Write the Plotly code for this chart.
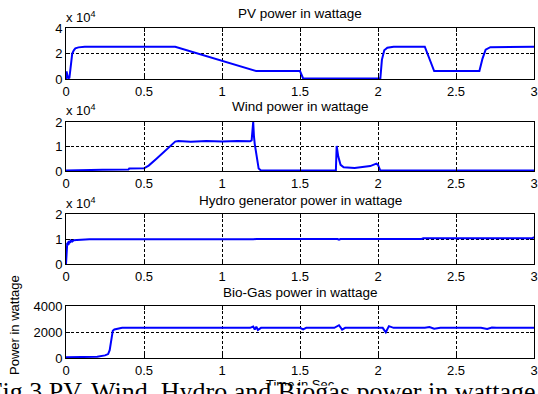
import plotly.graph_objects as go

# ---------------- data ----------------
pv_t = [0, 0.004, 0.008, 0.015, 0.022, 0.03, 0.04, 0.05, 0.06, 0.08, 0.1, 0.12,
        0.7, 1.22, 1.5, 1.52, 2.015, 2.025, 2.04, 2.06, 2.1, 2.3, 2.36, 2.65,
        2.67, 2.69, 2.72, 3.0]
pv_v = [0, 0.6, 0.3, 0.05, 0.1, 1.2, 2.0, 2.25, 2.4, 2.48, 2.52, 2.53,
        2.53, 0.62, 0.62, 0.04, 0.04, 1.5, 2.25, 2.45, 2.53, 2.53, 0.62, 0.62,
        1.6, 2.3, 2.5, 2.53]

wind_t = [0, 0.23, 0.235, 0.4, 0.405, 0.5, 0.53, 0.58, 0.65, 0.7, 0.72, 0.8, 0.9,
          1.0, 1.1, 1.18, 1.19, 1.195, 1.2, 1.205, 1.21, 1.235, 1.25, 1.73, 1.735,
          1.745, 1.76, 1.78, 1.85, 1.95, 1.99, 2.0, 2.015, 3.0]
wind_v = [0.02, 0.02, 0.05, 0.06, 0.1, 0.11, 0.22, 0.5, 0.9, 1.2, 1.22, 1.19, 1.22,
          1.2, 1.22, 1.21, 1.25, 1.9, 2.0, 1.4, 1.1, 0.1, 0.02, 0.02, 1.02,
          0.6, 0.25, 0.15, 0.12, 0.2, 0.3, 0.25, 0.02, 0.02]

hydro_t = [0, 0.002, 0.005, 0.008, 0.011, 0.014, 0.017, 0.02, 0.025, 0.03, 0.04,
           0.05, 0.07, 0.1, 0.15, 1.2, 1.22, 1.74, 1.75, 1.76, 2.04, 2.05, 2.06,
           2.28, 2.29, 2.99, 3.0]
hydro_v = [0, 0.5, 0.72, 0.85, 0.74, 0.9, 0.78, 0.92, 0.84, 0.94, 0.9,
           0.95, 0.96, 0.97, 0.99, 0.99, 1.0, 1.0, 0.97, 1.0, 1.0, 0.97, 1.0,
           1.0, 1.03, 1.03, 1.08]

bio_t = [0, 0.15, 0.2, 0.25, 0.27, 0.28, 0.29, 0.3, 0.31, 0.33, 0.36, 1.18, 1.2,
         1.21, 1.22, 1.23, 1.25, 1.5, 1.52, 1.54, 1.72, 1.75, 1.77, 1.79, 2.03,
         2.05, 2.07, 2.1, 2.3, 2.33, 2.36, 2.4, 2.66, 2.7, 2.73, 2.76, 3.0]
bio_v = [50, 50, 100, 200, 300, 600, 1400, 2100, 2200, 2250, 2320, 2320, 2420,
         2200, 2400, 2150, 2320, 2320, 2200, 2320, 2320, 2520, 2180, 2320, 2320,
         1980, 2450, 2320, 2320, 2380, 2250, 2320, 2320, 2240, 2350, 2320, 2320]

titles = ["PV power in wattage", "Wind power in wattage",
          "Hydro generator power in wattage", "Bio-Gas power in wattage"]
y_ranges = [[0, 4], [0, 2], [0, 2], [0, 4000]]
y_ticks = [[0, 2, 4], [0, 1, 2], [0, 1, 2], [0, 2000, 4000]]
x_ticks = [0, 0.5, 1, 1.5, 2, 2.5, 3]
x_ticktext = ["0", "0.5", "1", "1.5", "2", "2.5", "3"]
exp_label = "x 10<sup>4</sup>"

# ---------------- layout helpers ----------------
W, H = 538, 394
def px(x):
    return x / W
def py(y):
    return 1 - y / H

x_dom = [px(66), px(534)]
panels = [(28, 79), (122, 171), (214, 264), (306, 358)]  # top, bottom pixel
title_y = [14, 107, 200, 292]
exp_y = [17, 110, 203]

FONT = "Liberation Sans, Arial, sans-serif"
fig = go.Figure()
series = [(pv_t, pv_v), (wind_t, wind_v), (hydro_t, hydro_v), (bio_t, bio_v)]

layout = dict(width=W, height=H,
              margin=dict(l=0, r=0, t=0, b=0, autoexpand=False),
              paper_bgcolor="white", plot_bgcolor="white", showlegend=False,
              font=dict(family=FONT, size=13, color="black"))

annotations = []
for i, ((t, v), (top, bot)) in enumerate(zip(series, panels)):
    n = "" if i == 0 else str(i + 1)
    fig.add_trace(go.Scatter(x=t, y=v, mode="lines",
                             line=dict(color="#0000FF", width=2),
                             xaxis="x" + n, yaxis="y" + n))
    layout["xaxis" + n] = dict(domain=x_dom, anchor="y" + n, range=[0, 3],
                               tickvals=x_ticks, ticktext=x_ticktext,
                               showline=True, linecolor="black", linewidth=1,
                               mirror="ticks", ticks="inside", ticklen=4,
                               tickcolor="black", showgrid=True,
                               gridcolor="black", gridwidth=1, griddash="3px,2px",
                               zeroline=False, tickfont=dict(size=13))
    layout["yaxis" + n] = dict(domain=[py(bot), py(top)], anchor="x" + n,
                               range=y_ranges[i], tickvals=y_ticks[i],
                               showline=True, linecolor="black", linewidth=1,
                               mirror="ticks", ticks="inside", ticklen=4,
                               tickcolor="black", showgrid=True,
                               gridcolor="black", gridwidth=1, griddash="3px,2px",
                               zeroline=False, tickfont=dict(size=13))
    annotations.append(dict(text=titles[i], x=px(300), y=py(title_y[i]),
                            xref="paper", yref="paper", showarrow=False,
                            xanchor="center", yanchor="middle",
                            font=dict(size=13.5, family=FONT)))
    if i < 3:
        annotations.append(dict(text=exp_label, x=px(64), y=py(exp_y[i]),
                                xref="paper", yref="paper", showarrow=False,
                                xanchor="left", yanchor="middle",
                                font=dict(size=13, family=FONT)))

annotations.append(dict(text="Power in wattage", textangle=-90, x=px(14), y=py(325),
                        xref="paper", yref="paper", showarrow=False,
                        xanchor="center", yanchor="middle",
                        font=dict(size=13, family=FONT)))
annotations.append(dict(text="Time in Sec", x=px(300), y=py(384),
                        xref="paper", yref="paper", showarrow=False,
                        xanchor="center", yanchor="middle",
                        font=dict(size=13, family=FONT)))
annotations.append(dict(text=" ", x=0, y=0, xref="paper", yref="paper",
                        showarrow=False, xanchor="left", yanchor="bottom",
                        width=W, height=H - 387, bgcolor="white", borderpad=0,
                        font=dict(size=4)))
annotations.append(dict(text="Fig.3 PV, Wind, Hydro and Biogas power in wattage",
                        x=px(-14), y=py(375), xref="paper", yref="paper",
                        showarrow=False, xanchor="left", yanchor="top",
                        font=dict(size=26, family="Liberation Serif, Times New Roman, serif")))
layout["annotations"] = annotations

fig.update_layout(**layout)
fig.write_html("out.html")
